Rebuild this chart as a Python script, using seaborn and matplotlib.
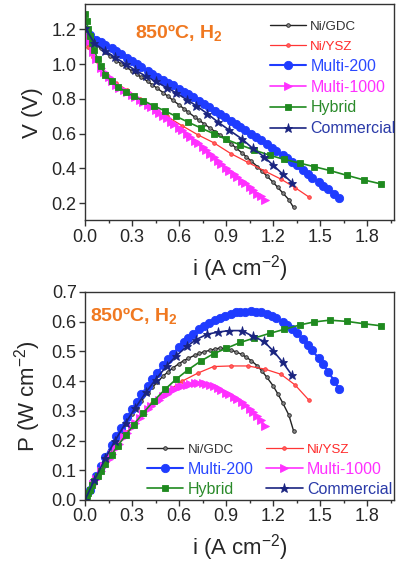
import numpy as np
import pandas as pd
import matplotlib
matplotlib.use('Agg')
import matplotlib.pyplot as plt
import seaborn as sns
from matplotlib.ticker import MultipleLocator

# ---- data (i in A cm-2, V in V, P in W cm-2) ----
i_gdc = [0.00, 0.03, 0.06, 0.10, 0.13, 0.16, 0.20, 0.23, 0.26, 0.30, 0.33, 0.36, 0.40, 0.43,
         0.46, 0.50, 0.53, 0.56, 0.60, 0.63, 0.66, 0.70, 0.73, 0.76, 0.80, 0.83, 0.86, 0.90,
         0.93, 0.96, 1.00, 1.03, 1.06, 1.10, 1.13, 1.16, 1.20, 1.23, 1.26, 1.30, 1.33]
v_gdc = [1.18, 1.15, 1.12, 1.09, 1.07, 1.048, 1.02, 1.002, 0.984, 0.96, 0.942, 0.924, 0.90, 0.881,
         0.861, 0.835, 0.814, 0.793, 0.765, 0.744, 0.723, 0.695, 0.676, 0.656, 0.63, 0.612, 0.594, 0.565,
         0.543, 0.52, 0.49, 0.466, 0.442, 0.41, 0.383, 0.356, 0.32, 0.29, 0.26, 0.22, 0.175]
p_gdc = [0.0, 0.035, 0.067, 0.109, 0.139, 0.168, 0.204, 0.230, 0.256, 0.288, 0.311, 0.333, 0.360, 0.379,
         0.396, 0.418, 0.431, 0.444, 0.459, 0.469, 0.477, 0.487, 0.493, 0.499, 0.504, 0.508, 0.511, 0.509,
         0.505, 0.499, 0.490, 0.480, 0.469, 0.451, 0.433, 0.413, 0.384, 0.357, 0.328, 0.286, 0.233]

i_ysz = [0.00, 0.02, 0.05, 0.09, 0.14, 0.20, 0.27, 0.35, 0.43, 0.52, 0.62, 0.72, 0.82, 0.93,
         1.04, 1.15, 1.25, 1.34, 1.43]
v_ysz = [1.15, 1.10, 1.04, 0.99, 0.94, 0.89, 0.85, 0.80, 0.755, 0.70, 0.645, 0.593, 0.548, 0.485,
         0.434, 0.383, 0.338, 0.289, 0.234]
p_ysz = [0.0, 0.022, 0.052, 0.089, 0.132, 0.178, 0.230, 0.280, 0.325, 0.364, 0.400, 0.427, 0.449, 0.451,
         0.451, 0.440, 0.423, 0.387, 0.335]

i_m200 = [0.00, 0.03, 0.07, 0.10, 0.13, 0.17, 0.20, 0.23, 0.27, 0.30, 0.33, 0.36, 0.40, 0.43, 0.46,
          0.50, 0.53, 0.56, 0.60, 0.63, 0.66, 0.69, 0.73, 0.76, 0.79, 0.83, 0.86, 0.89, 0.93, 0.96,
          0.99, 1.02, 1.06, 1.09, 1.12, 1.16, 1.19, 1.22, 1.26, 1.29, 1.32, 1.35, 1.39, 1.42, 1.45,
          1.49, 1.52, 1.55, 1.59, 1.62]
v_m200 = [1.19, 1.165, 1.14, 1.125, 1.11, 1.09, 1.075, 1.058, 1.037, 1.02, 1.003, 0.986, 0.962, 0.945, 0.928,
          0.910, 0.894, 0.878, 0.858, 0.842, 0.826, 0.810, 0.788, 0.771, 0.754, 0.731, 0.714, 0.697, 0.674, 0.657,
          0.640, 0.622, 0.599, 0.581, 0.563, 0.539, 0.520, 0.501, 0.476, 0.457, 0.437, 0.417, 0.389, 0.368, 0.347,
          0.320, 0.300, 0.279, 0.252, 0.231]
p_m200 = [0.0, 0.035, 0.080, 0.113, 0.144, 0.185, 0.215, 0.243, 0.280, 0.306, 0.331, 0.355, 0.385, 0.406, 0.427,
          0.455, 0.474, 0.492, 0.515, 0.530, 0.545, 0.559, 0.575, 0.586, 0.596, 0.607, 0.614, 0.620, 0.627, 0.631,
          0.634, 0.634, 0.635, 0.633, 0.631, 0.625, 0.619, 0.611, 0.600, 0.590, 0.577, 0.563, 0.541, 0.523, 0.503,
          0.477, 0.456, 0.432, 0.401, 0.374]

i_m1000 = [0.00, 0.02, 0.05, 0.07, 0.10, 0.12, 0.15, 0.17, 0.20, 0.22, 0.25, 0.27, 0.30, 0.32, 0.35, 0.37,
           0.40, 0.42, 0.45, 0.47, 0.50, 0.52, 0.55, 0.57, 0.60, 0.62, 0.65, 0.67, 0.70, 0.72, 0.75, 0.77,
           0.80, 0.82, 0.85, 0.87, 0.90, 0.92, 0.95, 0.97, 1.00, 1.02, 1.05, 1.07, 1.10, 1.12, 1.15]
v_m1000 = [1.19, 1.13, 1.07, 1.03, 0.98, 0.955, 0.925, 0.905, 0.88, 0.865, 0.85, 0.838, 0.82, 0.808, 0.792, 0.781,
           0.765, 0.752, 0.733, 0.72, 0.70, 0.687, 0.667, 0.654, 0.633, 0.619, 0.597, 0.583, 0.56, 0.545, 0.523, 0.508,
           0.485, 0.468, 0.443, 0.426, 0.40, 0.386, 0.365, 0.351, 0.33, 0.315, 0.292, 0.278, 0.255, 0.24, 0.217]
p_m1000 = [0.0, 0.023, 0.054, 0.072, 0.098, 0.115, 0.139, 0.154, 0.176, 0.190, 0.213, 0.226, 0.246, 0.259, 0.277, 0.289,
           0.306, 0.316, 0.330, 0.338, 0.350, 0.357, 0.367, 0.373, 0.380, 0.384, 0.388, 0.391, 0.392, 0.392, 0.392, 0.391,
           0.388, 0.384, 0.377, 0.371, 0.360, 0.355, 0.347, 0.340, 0.330, 0.321, 0.307, 0.297, 0.281, 0.269, 0.250]

i_hyb = [0.00, 0.01, 0.02, 0.03, 0.045, 0.06, 0.08, 0.10, 0.13, 0.17, 0.21, 0.26, 0.31, 0.37, 0.44, 0.51,
         0.58, 0.66, 0.74, 0.82, 0.90, 0.99, 1.08, 1.18, 1.27, 1.37, 1.46, 1.56, 1.67, 1.78, 1.89]
v_hyb = [1.29, 1.25, 1.20, 1.16, 1.12, 1.08, 1.03, 0.99, 0.94, 0.90, 0.87, 0.84, 0.815, 0.79, 0.76, 0.73,
         0.70, 0.665, 0.632, 0.60, 0.567, 0.535, 0.505, 0.475, 0.452, 0.43, 0.41, 0.388, 0.36, 0.333, 0.31]
p_hyb = [0.0, 0.0125, 0.024, 0.035, 0.050, 0.065, 0.082, 0.099, 0.122, 0.153, 0.183, 0.218, 0.253, 0.292, 0.334, 0.372,
         0.406, 0.439, 0.468, 0.492, 0.510, 0.530, 0.545, 0.561, 0.574, 0.589, 0.599, 0.605, 0.601, 0.593, 0.586]

i_com = [0.00, 0.06, 0.13, 0.19, 0.26, 0.32, 0.39, 0.45, 0.52, 0.58, 0.65, 0.71, 0.78, 0.85, 0.92,
         1.00, 1.07, 1.14, 1.20, 1.26, 1.32]
v_com = [1.21, 1.12, 1.075, 1.04, 1.00, 0.965, 0.93, 0.90, 0.865, 0.835, 0.795, 0.76, 0.715, 0.665, 0.62,
         0.57, 0.515, 0.468, 0.418, 0.368, 0.318]
p_com = [0.0, 0.067, 0.140, 0.198, 0.260, 0.309, 0.363, 0.405, 0.450, 0.484, 0.517, 0.540, 0.558, 0.565, 0.570,
         0.570, 0.551, 0.534, 0.502, 0.464, 0.420]

labels = ['Ni/GDC', 'Ni/YSZ', 'Multi-200', 'Multi-1000', 'Hybrid', 'Commercial']

sns.set_style('ticks')
plt.rcParams['font.family'] = ['Liberation Sans', 'DejaVu Sans']
plt.rcParams['mathtext.fontset'] = 'custom'
plt.rcParams['mathtext.rm'] = 'Liberation Sans'
plt.rcParams['mathtext.bf'] = 'Liberation Sans:bold'

# style per series: line colour, marker, marker size, marker face, line width, text colour, legend font size
styles = {
    'Ni/GDC':     dict(color='#222222', marker='o', ms=2.6, mfc='#888888', lw=1.0, tc='#333333', fs=9.6),
    'Ni/YSZ':     dict(color='#ff3535', marker='o', ms=2.6, mfc='#ff6060', lw=0.9, tc='#ff2a2a', fs=9.6),
    'Multi-200':  dict(color='#1f3cff', marker='o', ms=6.0, mfc='#1f3cff', lw=1.5, tc='#2a48ff', fs=11.5),
    'Multi-1000': dict(color='#ff30ff', marker='>', ms=5.5, mfc='#ff30ff', lw=1.2, tc='#ff30ff', fs=11.5),
    'Hybrid':     dict(color='#1f8a1f', marker='s', ms=5.0, mfc='#1f8a1f', lw=1.2, tc='#2a8a2a', fs=11.5),
    'Commercial': dict(color='#1a2480', marker='*', ms=6.5, mfc='#1a2480', lw=1.2, tc='#2a3aa8', fs=11.5),
}

curr = [i_gdc, i_ysz, i_m200, i_m1000, i_hyb, i_com]
volt = [v_gdc, v_ysz, v_m200, v_m1000, v_hyb, v_com]
powr = [p_gdc, p_ysz, p_m200, p_m1000, p_hyb, p_com]

frames = []
for lab, ii, vv, pp in zip(labels, curr, volt, powr):
    frames.append(pd.DataFrame({'i': ii, 'V': vv, 'P': pp, 'cell': lab}))
df = pd.concat(frames, ignore_index=True)

fig = plt.figure(figsize=(3.96, 5.69), dpi=100)
ax1 = fig.add_axes([0.2146, 0.6125, 0.780, 0.3796])
ax2 = fig.add_axes([0.2146, 0.1213, 0.780, 0.3656])

for ax, ycol in ((ax1, 'V'), (ax2, 'P')):
    for lab in labels:
        st = styles[lab]
        sns.lineplot(data=df[df['cell'] == lab], x='i', y=ycol, ax=ax, sort=False,
                     color=st['color'], marker=st['marker'], markersize=st['ms'],
                     markerfacecolor=st['mfc'], markeredgecolor=st['color'],
                     markeredgewidth=0.6, linewidth=st['lw'], label=lab)

for ax in (ax1, ax2):
    ax.set_xlim(0, 1.97)
    ax.xaxis.set_major_locator(MultipleLocator(0.3))
    ax.xaxis.set_minor_locator(MultipleLocator(0.15))
    ax.xaxis.set_major_formatter(matplotlib.ticker.FormatStrFormatter('%.1f'))
    ax.yaxis.set_major_formatter(matplotlib.ticker.FormatStrFormatter('%.1f'))
    ax.tick_params(axis='both', which='major', direction='out', length=4, width=1,
                   labelsize=13, color='#333333', pad=2)
    ax.tick_params(axis='both', which='minor', direction='out', length=2.5, width=1, color='#333333')
    for sp in ax.spines.values():
        sp.set_color('#333333')
        sp.set_linewidth(1.0)
    ax.set_xlabel('i (A cm$^{-2}$)', fontsize=16, labelpad=5)

ax1.set_ylim(0.1, 1.343)
ax1.yaxis.set_major_locator(MultipleLocator(0.2))
ax1.set_ylabel('V (V)', fontsize=16, labelpad=6)
ax2.set_ylim(0, 0.7)
ax2.yaxis.set_major_locator(MultipleLocator(0.1))
ax2.set_ylabel('P (W cm$^{-2}$)', fontsize=16, labelpad=6)

cond = '850\u00baC, H$_\\mathbf{2}$'
ax1.text(0.162, 0.868, cond, transform=ax1.transAxes, color='#f07820', fontsize=14,
         fontweight='bold', va='center', ha='left')
ax2.text(0.016, 0.881, cond, transform=ax2.transAxes, color='#f07820', fontsize=14,
         fontweight='bold', va='center', ha='left')

# legends
h, l = ax1.get_legend_handles_labels()
leg1 = ax1.legend(h, l, loc='upper right', frameon=False, fontsize=11.5, handlelength=2.3,
                  handletextpad=0.25, labelspacing=0.36, borderaxespad=0.0,
                  bbox_to_anchor=(1.026, 0.962))
# row-wise order in the two-column legend
h, l = ax2.get_legend_handles_labels()
order = [0, 2, 4, 1, 3, 5]
leg2 = ax2.legend([h[k] for k in order], [l[k] for k in order], loc='lower right', ncol=2,
                  frameon=False, fontsize=11.5, handlelength=2.3, handletextpad=0.25,
                  labelspacing=0.32, columnspacing=0.8, borderaxespad=0.0,
                  bbox_to_anchor=(1.015, -0.015))
for leg in (leg1, leg2):
    for txt in leg.get_texts():
        st = styles[txt.get_text()]
        txt.set_color(st['tc'])
        txt.set_fontsize(st['fs'])

fig.savefig('out.png', dpi=100)
